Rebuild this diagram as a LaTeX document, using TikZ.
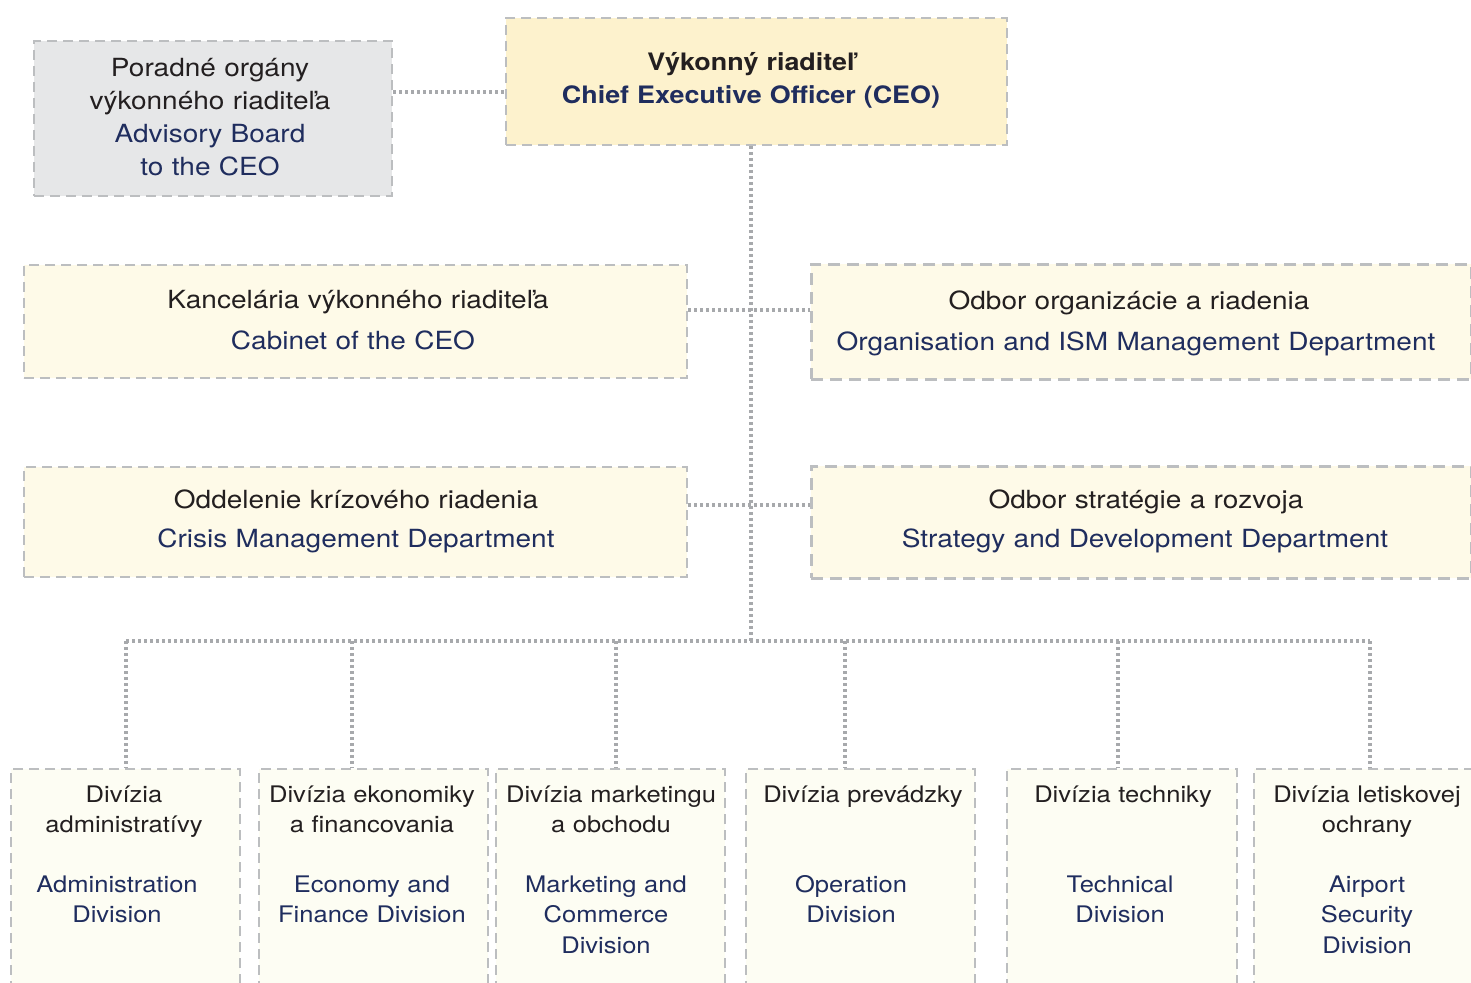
\documentclass[tikz,border=0pt]{standalone}
\usepackage{fontspec}
\setmainfont{TeX Gyre Heros}[FakeStretch=1.12]
\definecolor{navy}{HTML}{1F2D5E}
\definecolor{ink}{HTML}{231F20}
\definecolor{bord}{HTML}{BCBEC0}
\definecolor{dotc}{HTML}{A7A9AC}
\definecolor{ceofill}{HTML}{FDF2CD}
\definecolor{lightfill}{HTML}{FEFAE8}
\definecolor{divfill}{HTML}{FDFDF3}
\definecolor{advfill}{HTML}{E6E7E8}
\begin{document}
\begin{tikzpicture}[x=0.5pt,y=-0.5pt,
  box/.style={draw=bord, line width=1pt, dash pattern=on 5pt off 3pt, inner sep=0pt, anchor=north west, rectangle},
  thickbox/.style={box, line width=1.4pt, dash pattern=on 6pt off 3.5pt},
  conn/.style={draw=dotc, line width=1.6pt, dash pattern=on 1.6pt off 1.4pt},
  sk/.style={text=ink, font=\fontsize{12.5}{16.5}\selectfont, align=center, text width=330pt, anchor=base, inner sep=0pt},
  en/.style={sk, text=navy},
  dsk/.style={sk, text width=130pt, font=\fontsize{11.4}{15.25}\selectfont},
  den/.style={dsk, text=navy}]
\useasboundingbox (0,0) rectangle (1471,983);
\clip (0,0) rectangle (1471,983);

% boxes
\node[box, fill=advfill, minimum width=179pt, minimum height=77.5pt] (adv) at (33,40) {};
\node[box, fill=ceofill, minimum width=250.5pt, minimum height=63.5pt] (ceo) at (505,17) {};
\node[box, fill=lightfill, minimum width=331.5pt, minimum height=56.5pt] (cab) at (23,264) {};
\node[thickbox, fill=lightfill, minimum width=330pt, minimum height=57.5pt] (org) at (810,263) {};
\node[box, fill=lightfill, minimum width=331.5pt, minimum height=55pt] (cri) at (23,466) {};
\node[thickbox, fill=lightfill, minimum width=330pt, minimum height=56pt] (str) at (810,465) {};
\node[box, fill=divfill, minimum width=114.5pt, minimum height=121pt] (b1) at (10,768) {};
\node[box, fill=divfill, minimum width=114.5pt, minimum height=121pt] (b2) at (258,768) {};
\node[box, fill=divfill, minimum width=114.5pt, minimum height=121pt] (b3) at (495,768) {};
\node[box, fill=divfill, minimum width=114.5pt, minimum height=121pt] (b4) at (745,768) {};
\node[box, fill=divfill, minimum width=115pt, minimum height=121pt] (b5) at (1006,768) {};
\node[box, fill=divfill, minimum width=114.5pt, minimum height=121pt] (b6) at (1253,768) {};

% texts
\node[sk] (advsk) at (210,77) {Poradné orgány\\výkonného riaditeľa};
\node[en] (adven) at (210,143) {Advisory Board\\to the CEO};
\node[sk, font=\fontsize{12}{16.5}\selectfont\bfseries] (ceosk) at (751,71) {Výkonný riaditeľ};
\node[en, font=\fontsize{12}{16.5}\selectfont\bfseries] (ceoen) at (751,104) {Chief Executive Officer (CEO)};
\node[sk] (cabsk) at (358,309) {Kancelária výkonného riaditeľa};
\node[en] (caben) at (353,350) {Cabinet of the CEO};
\node[sk] (orgsk) at (1129,310) {Odbor organizácie a riadenia};
\node[en] (orgen) at (1136,351) {Organisation and ISM Management Department};
\node[sk] (crisk) at (356,509) {Oddelenie krízového riadenia};
\node[en] (crien) at (356,547) {Crisis Management Department};
\node[sk] (strsk) at (1146,509) {Odbor stratégie a rozvoja};
\node[en] (stren) at (1145,547) {Strategy and Development Department};

\node[dsk] (t1sk) at (124,802) {Divízia\\administratívy};
\node[den] (t1en) at (117,892) {Administration\\Division};
\node[dsk] (t2sk) at (372,802) {Divízia ekonomiky\\a financovania};
\node[den] (t2en) at (372,892) {Economy and\\Finance Division};
\node[dsk] (t3sk) at (611,802) {Divízia marketingu\\a obchodu};
\node[den] (t3en) at (606,892) {Marketing and\\Commerce\\Division};
\node[dsk] (t4sk) at (863,802) {Divízia prevádzky};
\node[den] (t4en) at (851,892) {Operation\\Division};
\node[dsk] (t5sk) at (1123,802) {Divízia techniky};
\node[den] (t5en) at (1120,892) {Technical\\Division};
\node[dsk] (t6sk) at (1367,802) {Divízia letiskovej\\ochrany};
\node[den] (t6en) at (1367,892) {Airport\\Security\\Division};

% connector coordinates
\coordinate (advy) at (0,92);
\coordinate (trunk) at (751,641);
\coordinate (h1) at (0,310);
\coordinate (h2) at (0,505);
\coordinate (d1) at (126,641);
\coordinate (d2) at (352,641);
\coordinate (d3) at (616,641);
\coordinate (d4) at (845,641);
\coordinate (d5) at (1118,641);
\coordinate (d6) at (1370,641);

\draw[conn] (adv.east |- advy) -- (ceo.west |- advy);
\draw[conn] (ceo.south -| trunk) -- (trunk);
\draw[conn] (cab.east |- h1) -- (org.west |- h1);
\draw[conn] (cri.east |- h2) -- (str.west |- h2);
\draw[conn] (d1) -- (d6);
\foreach \i in {1,...,6} {\draw[conn] (d\i) -- (b\i.north -| d\i);}
\end{tikzpicture}
\end{document}
